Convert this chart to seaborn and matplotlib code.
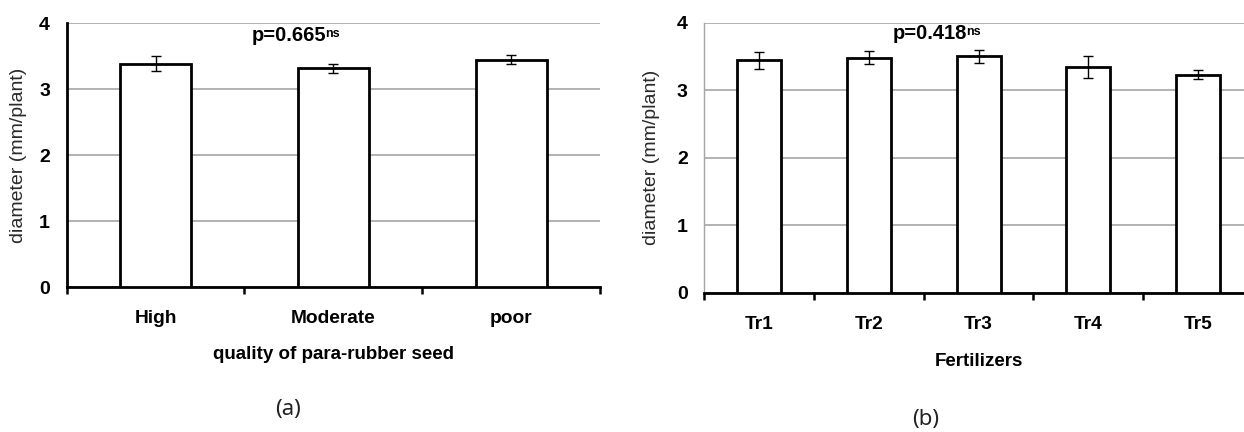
import numpy as np
import matplotlib
matplotlib.use("Agg")
import matplotlib.pyplot as plt
import seaborn as sns

# panel (a): quality of para-rubber seed
seed_quality = ["High", "Moderate", "poor"]
seed_diameter = [3.39, 3.32, 3.45]
seed_err = [0.115, 0.07, 0.07]
seed_p = "p=0.665"

# panel (b): fertilizers
fert_names = ["Tr1", "Tr2", "Tr3", "Tr4", "Tr5"]
fert_diameter = [3.44, 3.48, 3.50, 3.34, 3.23]
fert_err = [0.12, 0.095, 0.095, 0.165, 0.07]
fert_p = "p=0.418"

sns.set_style("white")
plt.rcParams["font.family"] = ["Liberation Sans", "DejaVu Sans"]
plt.rcParams["text.color"] = "black"
plt.rcParams["xtick.labelcolor"] = "black"
plt.rcParams["ytick.labelcolor"] = "black"

GRID = "#a6a6a6"


def draw_panel(ax, cats, vals, errs, ptext, px, py, xlabel, gray_yaxis, ylab_x):
    sns.barplot(x=cats, y=vals, color="white", saturation=1, edgecolor="black",
                linewidth=2, width=0.4, errorbar=None, ax=ax, zorder=3)
    ax.errorbar(np.arange(len(cats)), vals, yerr=errs, fmt="none", ecolor="black",
                elinewidth=1, capsize=3.5, capthick=1, zorder=4)

    n = len(cats)
    ax.set_xlim(-0.5, n - 0.5)
    ax.set_ylim(0, 4)
    ax.set_yticks([0, 1, 2, 3, 4])
    ax.yaxis.grid(True, color=GRID, linewidth=1.2, zorder=0)
    ax.set_axisbelow(True)

    for s in ["top", "right"]:
        ax.spines[s].set_visible(False)
    ax.spines["bottom"].set_color("black")
    ax.spines["bottom"].set_linewidth(2)
    if gray_yaxis:
        ax.spines["left"].set_color(GRID)
        ax.spines["left"].set_linewidth(1)
        ax.tick_params(axis="y", color=GRID, width=1, length=5)
    else:
        ax.spines["left"].set_color("black")
        ax.spines["left"].set_linewidth(2)
        ax.tick_params(axis="y", color="black", width=1.6, length=5)
    ax.tick_params(axis="y", labelsize=14, pad=7, labelcolor="black")
    for lab in ax.get_yticklabels():
        lab.set_fontweight("bold")

    # category labels without marks, marks at the boundaries
    ax.tick_params(axis="x", which="major", length=0, pad=16.5, labelsize=13.8,
                   labelcolor="black")
    for lab in ax.get_xticklabels():
        lab.set_fontweight("bold")
    ax.set_xticks(np.arange(-0.5, n, 1.0), minor=True)
    ax.tick_params(axis="x", which="minor", length=5, width=1.8, color="black",
                   direction="out", bottom=True)

    ax.set_ylabel("diameter (mm/plant)", fontsize=14, color="#2a2a2a")
    ax.yaxis.set_label_coords(ylab_x, 0.5)
    ax.set_xlabel(xlabel, fontsize=13.5, fontweight="bold", va="top",
                  color="black")
    ax.xaxis.set_label_coords(0.5, -0.225)

    t = ax.text(px, py, ptext, fontsize=14.5, fontweight="bold", va="center",
                ha="left", zorder=5)
    ax.annotate("ns", xy=(1, 0.9), xycoords=t, xytext=(-1, 0),
                textcoords="offset points", fontsize=9, va="top",
                ha="left", fontweight="bold")


fig = plt.figure(figsize=(12.44, 4.32), dpi=100)
ax1 = fig.add_axes([0.0536, 0.3356, 0.4287, 0.6105])
ax2 = fig.add_axes([0.5662, 0.3225, 0.4409, 0.625])

draw_panel(ax1, seed_quality, seed_diameter, seed_err, seed_p, 0.54, 3.82,
           "quality of para-rubber seed", gray_yaxis=False, ylab_x=-0.075)
draw_panel(ax2, fert_names, fert_diameter, fert_err, fert_p, 1.22, 3.84,
           "Fertilizers", gray_yaxis=True, ylab_x=-0.08)

fig.text(288 / 1244, 1 - 410 / 432, "(a)", fontsize=16, ha="center",
         va="center", family=["Noto Sans", "DejaVu Sans"], color="#222222")
fig.text(926 / 1244, 1 - 420 / 432, "(b)", fontsize=16, ha="center",
         va="center", family=["Noto Sans", "DejaVu Sans"], color="#222222")

fig.savefig("out.png", dpi=100)
